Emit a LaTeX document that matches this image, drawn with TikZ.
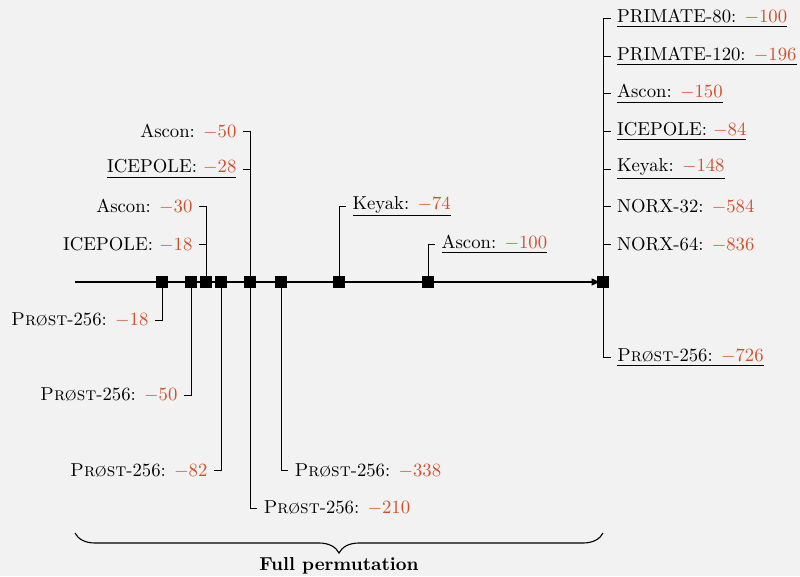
\documentclass[tikz,border=0pt]{standalone}
\usetikzlibrary{decorations.pathreplacing,backgrounds,arrows.meta}
\definecolor{bgc}{HTML}{F2F2F2}
\definecolor{numc}{HTML}{D0502A}
\newcommand{\nm}[1]{\textcolor{numc}{$-#1$}}
\newcommand{\prostname}{\textsc{Prøst}-256}
\begin{document}
\begin{tikzpicture}[x=0.535pt,y=-0.535pt,
  sq/.style={fill=black,inner sep=0pt,minimum size=6.9pt},
  lbl/.style={inner sep=3.33pt},
  lft/.style={lbl,anchor=east},
  rgt/.style={lbl,anchor=west},
  conn/.style={draw=black,thin}]
\useasboundingbox (0,0) rectangle (800,576);
% squares on the axis
\node[sq] (s1) at (162,282) {};
\node[sq] (s2) at (191,282) {};
\node[sq] (s3) at (206,282) {};
\node[sq] (s4) at (221,282) {};
\node[sq] (s5) at (250,282) {};
\node[sq] (s6) at (281,282) {};
\node[sq] (s7) at (339,282) {};
\node[sq] (s8) at (428,282) {};
\node[sq] (s9) at (603,282) {};
\coordinate (ax0) at (75,282);
\coordinate (ax1) at (601,282);
% left labels
\node[lft] (pr18) at (155,320) {\prostname: \nm{18}};
\node[lft] (pr50) at (184,395.3) {\prostname: \nm{50}};
\node[lft] (asc30) at (199,206.7) {Ascon: \nm{30}};
\node[lft] (ice18) at (199,244.3) {ICEPOLE: \nm{18}};
\node[lft] (pr82) at (214,470.5) {\prostname: \nm{82}};
\node[lft] (asc50) at (243,131.3) {Ascon: \nm{50}};
\node[lft] (ice28) at (243,169) {\underline{ICEPOLE: \nm{28}}};
% right labels
\node[rgt] (pr210) at (257,508.2) {\prostname: \nm{210}};
\node[rgt] (pr338) at (288,470.5) {\prostname: \nm{338}};
\node[rgt] (key74) at (346,206.7) {\underline{Keyak: \nm{74}}};
\node[rgt] (asc100) at (435,244.3) {\underline{Ascon: \nm{100}}};
\node[rgt] (prim80) at (610.5,18.3) {\underline{PRIMATE-80: \nm{100}}};
\node[rgt] (prim120) at (610.5,56) {\underline{PRIMATE-120: \nm{196}}};
\node[rgt] (asc150) at (610.5,93.7) {\underline{Ascon: \nm{150}}};
\node[rgt] (ice84) at (610.5,131.3) {\underline{ICEPOLE: \nm{84}}};
\node[rgt] (key148) at (610.5,169) {\underline{Keyak: \nm{148}}};
\node[rgt] (norx32) at (610.5,206.7) {NORX-32: \nm{584}};
\node[rgt] (norx64) at (610.5,244.3) {NORX-64: \nm{836}};
\node[rgt] (pr726) at (610.5,357.6) {\underline{\prostname: \nm{726}}};
% brace label
\node[font=\bfseries] (full) at (339,566) {Full permutation};
\begin{pgfonlayer}{background}
\fill[bgc] (0,0) rectangle (800,576);
\draw[semithick,-{Latex[length=5pt,width=4pt]}] (ax0) -- (ax1);
\draw[conn] (s1.center) |- (pr18.east);
\draw[conn] (s2.center) |- (pr50.east);
\draw[conn] (s3.center) |- (asc30.east);
\draw[conn] (ice18.east) -- (ice18.east -| s3.center);
\draw[conn] (s4.center) |- (pr82.east);
\draw[conn] (s5.center) |- (asc50.east);
\draw[conn] (ice28.east) -- (ice28.east -| s5.center);
\draw[conn] (s5.center) |- (pr210.west);
\draw[conn] (s6.center) |- (pr338.west);
\draw[conn] (s7.center) |- (key74.west);
\draw[conn] (s8.center) |- (asc100.west);
\draw[conn] (s9.center) |- (prim80.west);
\draw[conn] (prim120.west) -- (prim120.west -| s9.center);
\draw[conn] (asc150.west) -- (asc150.west -| s9.center);
\draw[conn] (ice84.west) -- (ice84.west -| s9.center);
\draw[conn] (key148.west) -- (key148.west -| s9.center);
\draw[conn] (norx32.west) -- (norx32.west -| s9.center);
\draw[conn] (norx64.west) -- (norx64.west -| s9.center);
\draw[conn] (s9.center) |- (pr726.west);
\coordinate (brR) at (603,533);
\coordinate (brL) at (75,533);
\draw[semithick,decorate,decoration={brace,amplitude=10.7pt}] (brR) -- (brL);
\end{pgfonlayer}
\end{tikzpicture}
\end{document}
